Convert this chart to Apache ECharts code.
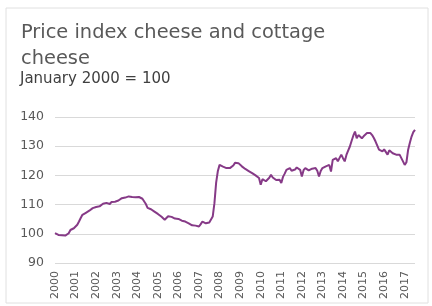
<!DOCTYPE html>
<html>
<head>
<meta charset="utf-8">
<script src="https://cdn.jsdelivr.net/npm/echarts@6/dist/echarts.min.js"></script>
<style>
  html, body { margin: 0; padding: 0; background: #fff; }
  #chart { width: 432px; height: 306px; }
</style>
</head>
<body>
<div id="chart"></div>
<script>
// monthly index, January 2000 = 100
var years = ["2000","2001","2002","2003","2004","2005","2006","2007","2008",
             "2009","2010","2011","2012","2013","2014","2015","2016","2017"];
var v2000 = [100.2, 99.8, 99.6, 99.7, 99.5, 99.6, 99.4, 99.7, 100.2, 101.3, 101.6, 101.9];
var v2001 = [102.3, 103.1, 104.2, 105.4, 106.5, 106.8, 107.2, 107.6, 107.9, 108.3, 108.8, 108.6];
var v2002 = [109.2, 109.6, 109.4, 109.9, 110.3, 110.1, 110.6, 110.5, 110.2, 110.9, 111.3, 111.0];
var v2003 = [111.6, 111.4, 111.9, 112.2, 111.8, 112.4, 112.7, 112.8, 112.9, 112.6, 112.8, 112.5];
var v2004 = [112.7, 112.6, 112.4, 112.0, 111.6, 110.2, 108.9, 108.6, 108.4, 108.0, 107.6, 107.4];
var v2005 = [106.8, 106.3, 105.9, 105.5, 104.8, 105.3, 106.0, 106.2, 105.8, 105.6, 105.2, 105.0];
var v2006 = [105.1, 104.7, 104.5, 104.6, 104.2, 104.0, 103.6, 103.1, 102.9, 103.0, 102.8, 102.7];
var v2007 = [102.5, 103.3, 104.2, 103.8, 103.6, 103.7, 103.9, 104.1, 105.9, 110.5, 117.5, 121.5];
var v2008 = [123.6, 123.4, 123.0, 122.6, 122.5, 122.6, 122.5, 122.8, 123.4, 124.3, 124.8, 124.2];
var v2009 = [123.6, 123.1, 122.7, 122.2, 121.9, 121.5, 121.1, 120.8, 120.3, 120.0, 119.8, 119.1];
var v2010 = [116.8, 118.7, 118.2, 118.0, 118.5, 119.2, 120.2, 119.3, 118.7, 118.4, 118.6, 118.5];
var v2011 = [117.4, 119.5, 120.6, 121.9, 121.4, 122.5, 121.6, 121.3, 122.0, 122.7, 122.2, 121.9];
var v2012 = [119.6, 121.8, 122.5, 122.0, 121.7, 121.9, 122.3, 122.1, 122.5, 121.6, 119.6, 121.5];
var v2013 = [122.5, 122.4, 123.1, 122.8, 123.6, 121.3, 125.3, 125.0, 125.9, 124.8, 126.0, 127.1];
var v2014 = [125.9, 124.8, 127.0, 128.5, 129.9, 131.8, 133.6, 135.0, 132.7, 133.8, 133.3, 132.7];
var v2015 = [133.4, 133.7, 134.5, 134.7, 134.5, 133.8, 132.8, 131.6, 130.2, 128.8, 128.5, 128.2];
var v2016 = [128.9, 129.4, 127.1, 128.6, 128.2, 127.6, 128.0, 127.1, 127.5, 127.1, 126.6, 124.8];
var v2017 = [123.6, 124.5, 128.8, 131.2, 133.3, 134.8, 135.6];

var yearValues = [v2000, v2001, v2002, v2003, v2004, v2005, v2006, v2007, v2008,
                  v2009, v2010, v2011, v2012, v2013, v2014, v2015, v2016, v2017];

var xData = [];
var yData = [];
yearValues.forEach(function (vals, k) {
  vals.forEach(function (v, m) {
    xData.push(years[k] + "-" + (m + 1));
    yData.push(v);
  });
});

var myChart = echarts.init(document.getElementById("chart"));
myChart.setOption({
  animation: false,
  textStyle: { fontFamily: "DejaVu Sans" },
  graphic: [
    {
      type: "rect",
      shape: { x: 6, y: 8, width: 422, height: 295 },
      style: { fill: "none", stroke: "#e0e0e0", lineWidth: 1 }
    },
    {
      type: "text",
      left: 21,
      top: 20,
      style: {
        text: "Price index cheese and cottage\ncheese",
        fill: "#595959",
        font: "19.4px 'DejaVu Sans'",
        lineHeight: 26
      }
    },
    {
      type: "text",
      left: 20,
      top: 72,
      style: {
        text: "January 2000 = 100",
        fill: "#404040",
        font: "15px 'DejaVu Sans'"
      }
    }
  ],
  grid: {
    left: 55,
    right: 17,
    top: 117,
    bottom: 43
  },
  xAxis: {
    type: "category",
    data: xData,
    boundaryGap: false,
    axisLine: { show: false },
    axisTick: { show: false },
    axisLabel: {
      rotate: 90,
      margin: 8,
      color: "#595959",
      fontSize: 11,
      interval: function (index) { return index % 12 === 0; },
      formatter: function (val) { return val.split("-")[0]; }
    }
  },
  yAxis: {
    type: "value",
    min: 90,
    max: 140,
    interval: 10,
    axisLine: { show: false },
    axisTick: { show: false },
    axisLabel: { color: "#595959", fontSize: 12.5, margin: 11 },
    splitLine: { lineStyle: { color: "#d9d9d9", width: 1 } }
  },
  series: [
    {
      type: "line",
      data: yData,
      showSymbol: false,
      smooth: false,
      lineStyle: { color: "#863a87", width: 2 }
    }
  ]
});
</script>
</body>
</html>
